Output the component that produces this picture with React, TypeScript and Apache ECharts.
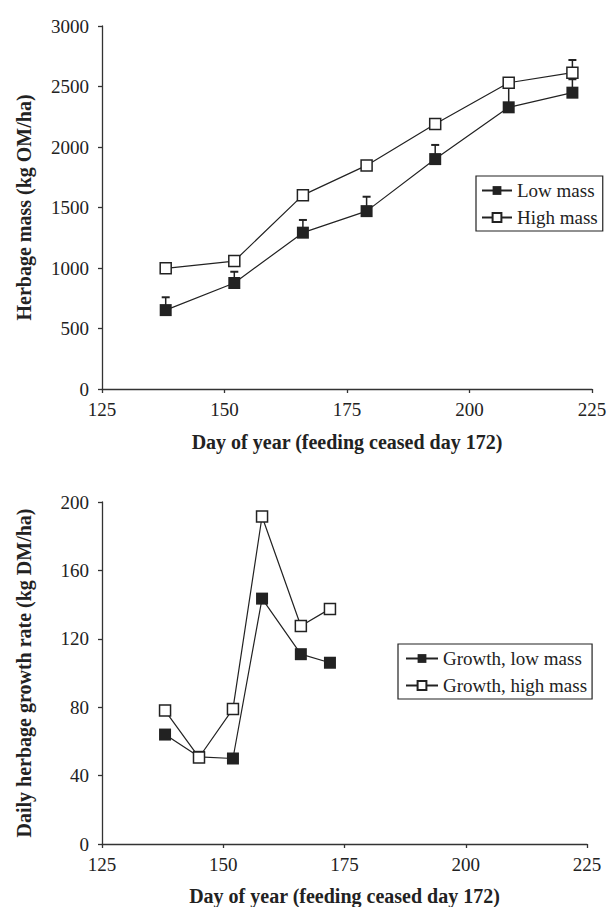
import React, { useEffect, useRef } from "react";
import * as echarts from "echarts";

const FONT = "'Liberation Serif', 'Times New Roman', serif";
const INK = "#222";

// Top panel: herbage mass
const massDays = [138, 152, 166, 179, 193, 208, 221];
const lowMass = [652, 876, 1292, 1470, 1900, 2328, 2449];
const highMass = [997, 1057, 1602, 1848, 2190, 2531, 2614];
const lowMassErrTop = [758, 969, 1397, 1589, 2017, 2565, 2560];
const highMassErrDays = [221];
const highMassErrTop = [2719];

// Bottom panel: daily growth rate
const growthDays = [138, 145, 152, 158, 166, 172];
const growthLow = [64, 51, 50, 143.5, 111, 106];
const growthHigh = [78, 50.6, 79, 191.5, 127.5, 137.5];

const xTicks = { min: 125, max: 225, interval: 25 };
const massTicks = { min: 0, max: 3000, interval: 500 };
const growthTicks = { min: 0, max: 200, interval: 40 };

const pairs = (xs: number[], ys: number[]) => xs.map((x, i) => [x, ys[i]]);
const triples = (xs: number[], ys: number[], tops: number[]) =>
  xs.map((x, i) => [x, ys[i], tops[i]]);

function errRender(params: any, api: any) {
  const x = api.value(0);
  const y = api.value(1);
  const top = api.value(2);
  const p0 = api.coord([x, y]);
  const p1 = api.coord([x, top]);
  return {
    type: "group",
    children: [
      {
        type: "line",
        shape: { x1: p0[0], y1: p0[1], x2: p1[0], y2: p1[1] },
        style: { stroke: INK, lineWidth: 1.5 },
      },
      {
        type: "line",
        shape: { x1: p1[0] - 4, y1: p1[1], x2: p1[0] + 4, y2: p1[1] },
        style: { stroke: INK, lineWidth: 2 },
      },
    ],
  };
}

const plain = (v: number) => String(v);

const axisCommon = {
  axisLine: { show: true, lineStyle: { color: "#333", width: 1.3 } },
  axisTick: { show: true, inside: false, length: 4, lineStyle: { color: "#333", width: 1.3 } },
  splitLine: { show: false },
  axisLabel: { color: INK, fontFamily: FONT, fontSize: 19, formatter: plain },
  nameTextStyle: { color: INK, fontFamily: FONT, fontSize: 20, fontWeight: "bold" as const },
};

export default function App() {
  const ref = useRef<HTMLDivElement>(null);
  useEffect(() => {
    document.body.style.margin = "0";
    if (!ref.current) return;
    const chart = echarts.init(ref.current, null, { renderer: "svg" });
    const filled = {
      symbol: "rect",
      symbolSize: 12,
      itemStyle: { color: INK },
      lineStyle: { color: INK, width: 1.2 },
    };
    const open = {
      symbol: "rect",
      symbolSize: 11,
      itemStyle: { color: "#fff", borderColor: INK, borderWidth: 1.5 },
      lineStyle: { color: INK, width: 1.2 },
    };
    const legendCommon = {
      orient: "vertical" as const,
      backgroundColor: "#fff",
      borderColor: INK,
      borderWidth: 1.2,
      borderRadius: 0,
      itemGap: 8,
      itemHeight: 11,
      textStyle: { color: INK, fontFamily: FONT, fontSize: 19, lineHeight: 19 },
    };
    chart.setOption({
      animation: false,
      backgroundColor: "#fff",
      grid: [
        { left: 102, top: 26, width: 490, height: 363, containLabel: false },
        { left: 102, top: 502, width: 485, height: 342, containLabel: false },
      ],
      xAxis: [
        {
          type: "value",
          gridIndex: 0,
          ...xTicks,
          ...axisCommon,
          axisLabel: { ...axisCommon.axisLabel, margin: 11 },
          name: "Day of year (feeding ceased day 172)",
          nameLocation: "middle",
          nameGap: 43,
        },
        {
          type: "value",
          gridIndex: 1,
          ...xTicks,
          ...axisCommon,
          axisLabel: { ...axisCommon.axisLabel, margin: 11 },
          name: "Day of year (feeding ceased day 172)",
          nameLocation: "middle",
          nameGap: 42,
        },
      ],
      yAxis: [
        {
          type: "value",
          gridIndex: 0,
          ...massTicks,
          ...axisCommon,
          axisLabel: { ...axisCommon.axisLabel, margin: 13 },
          name: "Herbage mass (kg OM/ha)",
          nameLocation: "middle",
          nameGap: 68,
        },
        {
          type: "value",
          gridIndex: 1,
          ...growthTicks,
          ...axisCommon,
          axisLabel: { ...axisCommon.axisLabel, margin: 13 },
          name: "Daily herbage growth rate (kg DM/ha)",
          nameLocation: "middle",
          nameGap: 68,
        },
      ],
      legend: [
        {
          ...legendCommon,
          data: ["Low mass", "High mass"],
          left: 476,
          top: 176,
          padding: [5, 5, 4, 5],
          itemWidth: 30,
        },
        {
          ...legendCommon,
          data: ["Growth, low mass", "Growth, high mass"],
          left: 398,
          top: 644,
          padding: [5, 5, 4, 7],
          itemWidth: 32,
        },
      ],
      series: [
        {
          type: "custom",
          name: "err-low",
          xAxisIndex: 0,
          yAxisIndex: 0,
          renderItem: errRender,
          encode: { x: 0, y: 1 },
          data: triples(massDays, lowMass, lowMassErrTop),
          z: 1,
        },
        {
          type: "custom",
          name: "err-high",
          xAxisIndex: 0,
          yAxisIndex: 0,
          renderItem: errRender,
          encode: { x: 0, y: 1 },
          data: triples(highMassErrDays, [highMass[6]], highMassErrTop),
          z: 1,
        },
        {
          type: "line",
          name: "Low mass",
          xAxisIndex: 0,
          yAxisIndex: 0,
          data: pairs(massDays, lowMass),
          ...filled,
          z: 2,
        },
        {
          type: "line",
          name: "High mass",
          xAxisIndex: 0,
          yAxisIndex: 0,
          data: pairs(massDays, highMass),
          ...open,
          z: 3,
        },
        {
          type: "line",
          name: "Growth, low mass",
          xAxisIndex: 1,
          yAxisIndex: 1,
          data: pairs(growthDays, growthLow),
          ...filled,
          z: 2,
        },
        {
          type: "line",
          name: "Growth, high mass",
          xAxisIndex: 1,
          yAxisIndex: 1,
          data: pairs(growthDays, growthHigh),
          ...open,
          z: 3,
        },
      ],
    });
    return () => chart.dispose();
  }, []);
  return <div ref={ref} style={{ width: 610, height: 907 }} />;
}
